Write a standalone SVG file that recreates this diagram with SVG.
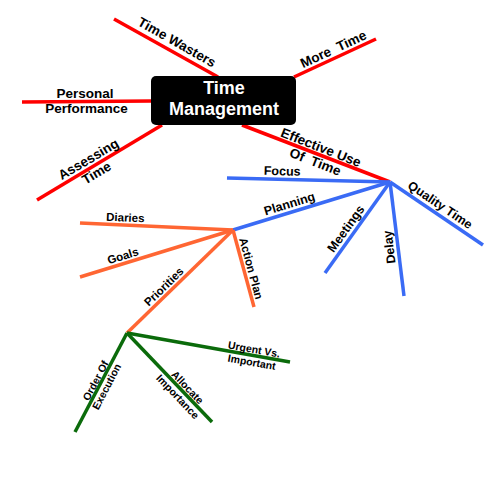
<svg xmlns="http://www.w3.org/2000/svg" width="500" height="500" viewBox="0 0 500 500">
<style>
text{font-family:"Liberation Sans",Arial,sans-serif;font-weight:bold;fill:#000;text-anchor:middle}
.r{stroke:#ff0000;stroke-width:3.5;fill:none}
.b{stroke:#3a6bf5;stroke-width:3.5;fill:none}
.o{stroke:#ff6633;stroke-width:3.5;fill:none}
.g{stroke:#0b6b0b;stroke-width:3.5;fill:none}
.tr{font-size:13.5px}
.tb{font-size:12.5px}
.to{font-size:11.5px}
.tg{font-size:10.5px}
.c{font-size:18px;fill:#fff}
</style>
<rect width="500" height="500" fill="#fff"/>
<g id="connectors">
<line class="r" x1="114" y1="19" x2="218" y2="77"/>
<line class="r" x1="294" y1="77" x2="376" y2="39"/>
<line class="r" x1="22" y1="102" x2="152" y2="101"/>
<line class="r" x1="37" y1="200" x2="162" y2="125"/>
<line class="r" x1="242" y1="125" x2="390" y2="182"/>
<line class="b" x1="390" y1="182" x2="227" y2="178"/>
<line class="b" x1="390" y1="182" x2="233" y2="230"/>
<line class="b" x1="390" y1="182" x2="325" y2="273"/>
<line class="b" x1="390" y1="182" x2="404" y2="296"/>
<line class="b" x1="390" y1="182" x2="483" y2="245"/>
<line class="o" x1="233" y1="230" x2="80" y2="223"/>
<line class="o" x1="233" y1="230" x2="80" y2="277"/>
<line class="o" x1="233" y1="230" x2="127" y2="333"/>
<line class="o" x1="233" y1="230" x2="254" y2="307"/>
<line class="g" x1="127" y1="333" x2="290" y2="362"/>
<line class="g" x1="127" y1="333" x2="212" y2="422"/>
<line class="g" x1="127" y1="333" x2="75" y2="432"/>
</g>
<g id="center">
<rect x="151" y="76" width="145" height="49" rx="5" fill="#000"/>
<text class="c" x="224" y="94">Time</text>
<text class="c" x="224" y="114.5">Management</text>
</g>
<g id="time-wasters"><text class="tr" transform="translate(172,51) rotate(29.5)" y="-5.5">Time Wasters</text></g>
<g id="more-time"><text class="tr" transform="translate(337,57) rotate(-24.9)" y="-4" xml:space="preserve">More  Time</text></g>
<g id="personal-performance">
<text class="tr" x="85" y="98">Personal</text>
<text class="tr" x="86.5" y="113">Performance</text>
</g>
<g id="assessing-time"><text class="tr" transform="translate(93,167) rotate(-30.6)"><tspan x="0" y="-4.5">Assessing</tspan><tspan x="0" y="11.5">Time</tspan></text></g>
<g id="effective-use"><text class="tr" transform="translate(318,155) rotate(21.5)" xml:space="preserve"><tspan x="0" y="-3.5">Effective Use</tspan><tspan x="0" y="12">Of  Time</tspan></text></g>
<g id="focus"><text class="tb" transform="translate(282,179.3) rotate(1.4)" y="-4">Focus</text></g>
<g id="planning"><text class="tb" transform="translate(292,212) rotate(-17)" y="-4.5">Planning</text></g>
<g id="meetings"><text class="tb" transform="translate(353,233.7) rotate(-54.5)" y="-4.5">Meetings</text></g>
<g id="delay"><text class="tb" transform="translate(398,246) rotate(-97)" y="-4.5">Delay</text></g>
<g id="quality-time"><text class="tb" transform="translate(435,212.5) rotate(34.1)" y="-5">Quality Time</text></g>
<g id="diaries"><text class="to" transform="translate(125,225) rotate(2.6)" y="-3.5">Diaries</text></g>
<g id="goals"><text class="to" transform="translate(125,263) rotate(-17)" y="-3.5">Goals</text></g>
<g id="priorities"><text class="to" transform="translate(169,292) rotate(-44.2)" y="-3.5">Priorities</text></g>
<g id="action-plan"><text class="to" transform="translate(244,270.5) rotate(74.7)" y="-3.5">Action Plan</text></g>
<g id="urgent"><text class="tg" transform="translate(253,355.4) rotate(10.1)"><tspan x="0" y="-2.5">Urgent Vs.</tspan><tspan x="0" y="10.5">Important</tspan></text></g>
<g id="allocate"><text class="tg" transform="translate(183,391.6) rotate(46.3)"><tspan x="0" y="-2.5">Allocate</tspan><tspan x="0" y="11">Importance</tspan></text></g>
<g id="order"><text class="tg" transform="translate(100.6,383.3) rotate(-62.3)"><tspan x="0" y="-2">Order Of</tspan><tspan x="0" y="10.5">Execution</tspan></text></g>
</svg>
